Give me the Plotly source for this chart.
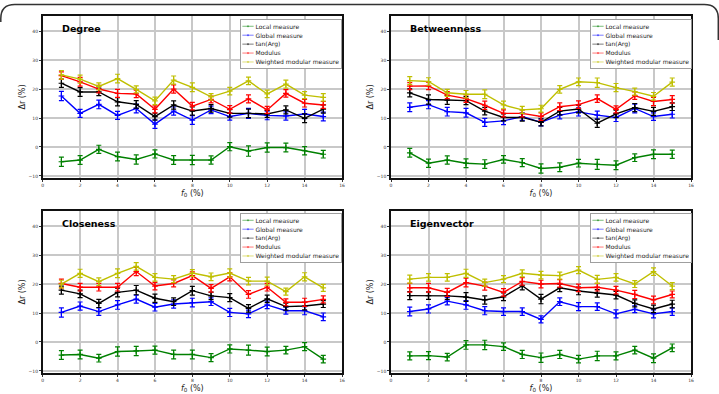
import plotly.graph_objects as go

W, H = 719, 394

X = [1, 2, 3, 4, 5, 6, 7, 8, 9, 10, 11, 12, 13, 14, 15]
SERIES_NAMES = ["Local measure", "Global measure", "tan(Arg)", "Modulus", "Weighted modular measure"]
SERIES_COLORS = ["#008000", "#0000ff", "#000000", "#ff0000", "#bfbf00"]
PANEL_TITLES = ["Degree", "Betweenness", "Closeness", "Eigenvector"]
X_TICKS = [0, 2, 4, 6, 8, 10, 12, 14, 16]
Y_TICKS = [-10, 0, 10, 20, 30, 40]

# Degree
DEG_LOCAL = [-5.1, -4.5, -0.8, -3.3, -4.3, -2.4, -4.5, -4.5, -4.5, 0.1, -1.4, -0.2, -0.2, -1.3, -2.5]
DEG_GLOBAL = [17.6, 11.6, 14.7, 10.9, 13.3, 7.9, 12.4, 9.3, 12.8, 10.5, 11.6, 10.9, 10.7, 11.4, 10.5]
DEG_TANARG = [22.0, 19.0, 19.0, 15.6, 14.7, 10.5, 14.5, 12.4, 13.3, 11.6, 11.6, 11.4, 12.8, 9.9, 13.1]
DEG_MODULUS = [24.6, 22.5, 20.0, 18.5, 18.3, 13.0, 20.0, 14.1, 16.4, 13.0, 16.6, 12.8, 18.5, 15.1, 14.5]
DEG_WEIGHTED = [24.9, 23.4, 20.9, 23.6, 19.9, 15.9, 23.1, 20.6, 17.3, 19.3, 22.8, 18.3, 21.7, 17.9, 17.1]
DEG_LOCAL_ERR = [1.6, 1.5, 1.4, 1.5, 1.6, 1.4, 1.5, 1.6, 1.4, 1.4, 1.8, 1.6, 1.5, 1.4, 1.3]
DEG_GLOBAL_ERR = [1.6, 1.4, 1.5, 1.4, 1.5, 1.5, 1.4, 1.5, 1.3, 1.2, 1.7, 1.5, 1.4, 1.6, 1.5]
DEG_TANARG_ERR = [1.4, 1.5, 1.3, 1.4, 1.3, 1.2, 1.4, 1.4, 1.3, 1.3, 1.5, 1.2, 1.4, 1.5, 1.4]
DEG_MODULUS_ERR = [1.3, 1.5, 1.3, 1.4, 1.3, 1.2, 1.4, 1.3, 1.2, 1.3, 1.4, 1.2, 1.3, 1.3, 1.2]
DEG_WEIGHTED_ERR = [1.5, 1.4, 1.2, 1.5, 1.2, 1.3, 1.4, 1.5, 1.1, 1.3, 1.3, 1.3, 1.4, 1.2, 1.3]

# Betweenness
BET_LOCAL = [-2.0, -5.6, -4.5, -5.6, -5.9, -4.3, -5.4, -7.4, -7.0, -5.6, -6.0, -6.3, -3.7, -2.5, -2.5]
BET_GLOBAL = [13.7, 14.6, 12.2, 11.8, 8.5, 9.0, 10.5, 8.5, 11.0, 12.1, 11.0, 10.2, 13.3, 10.5, 11.3]
BET_TANARG = [18.7, 16.4, 16.2, 16.0, 12.4, 10.2, 10.2, 8.5, 12.4, 13.1, 8.2, 11.4, 13.6, 12.3, 13.9]
BET_MODULUS = [21.0, 21.1, 17.9, 16.7, 14.4, 11.6, 11.6, 10.5, 13.9, 14.6, 16.7, 13.0, 17.7, 15.7, 16.4]
BET_WEIGHTED = [22.9, 22.6, 18.7, 18.2, 18.2, 14.5, 12.8, 13.2, 19.9, 22.5, 22.2, 20.5, 19.1, 17.5, 22.4]
BET_LOCAL_ERR = [1.5, 1.4, 1.4, 1.5, 1.5, 1.3, 1.4, 1.6, 1.5, 1.3, 1.7, 1.5, 1.3, 1.5, 1.4]
BET_GLOBAL_ERR = [1.5, 1.4, 1.5, 1.5, 1.4, 1.3, 1.3, 1.2, 1.3, 1.4, 1.4, 1.4, 1.5, 1.3, 1.3]
BET_TANARG_ERR = [1.4, 1.6, 1.5, 1.4, 1.3, 1.2, 1.3, 1.2, 1.3, 1.3, 1.4, 1.3, 1.4, 1.4, 1.3]
BET_MODULUS_ERR = [1.2, 1.3, 1.2, 1.3, 1.4, 1.2, 1.2, 1.3, 1.3, 1.3, 1.3, 1.2, 1.3, 1.4, 1.3]
BET_WEIGHTED_ERR = [1.4, 1.3, 1.2, 1.3, 1.5, 1.3, 1.2, 1.2, 1.3, 1.3, 1.6, 1.4, 1.2, 1.3, 1.4]

# Closeness
CLO_LOCAL = [-4.5, -4.3, -5.6, -3.3, -3.1, -2.8, -4.3, -4.3, -5.4, -2.4, -2.8, -3.3, -2.8, -1.6, -5.9]
CLO_GLOBAL = [10.2, 12.4, 10.5, 12.8, 14.8, 12.0, 13.1, 13.6, 13.9, 10.2, 9.7, 12.8, 10.8, 10.8, 8.7]
CLO_TANARG = [17.9, 16.6, 13.3, 17.1, 17.9, 15.1, 13.9, 17.7, 15.9, 15.3, 11.6, 14.9, 12.2, 12.4, 13.1]
CLO_MODULUS = [20.2, 18.9, 18.9, 18.9, 24.3, 19.3, 20.2, 22.9, 18.5, 22.5, 16.4, 18.9, 13.7, 13.7, 14.7]
CLO_WEIGHTED = [20.0, 23.7, 20.8, 23.7, 26.1, 22.3, 21.7, 23.8, 22.5, 23.8, 21.0, 21.0, 17.4, 22.5, 18.7]
CLO_LOCAL_ERR = [1.5, 1.5, 1.3, 1.6, 1.6, 1.4, 1.5, 1.5, 1.4, 1.4, 1.7, 1.5, 1.3, 1.4, 1.3]
CLO_GLOBAL_ERR = [1.6, 1.4, 1.3, 1.5, 1.4, 1.3, 1.4, 1.5, 1.3, 1.4, 1.3, 1.3, 1.2, 1.4, 1.3]
CLO_TANARG_ERR = [1.4, 1.3, 1.4, 1.5, 1.6, 1.4, 1.3, 1.5, 1.3, 1.4, 1.3, 1.3, 1.2, 1.3, 1.2]
CLO_MODULUS_ERR = [1.5, 1.3, 1.3, 1.3, 1.4, 1.3, 1.2, 1.3, 1.3, 1.4, 1.3, 1.3, 1.2, 1.4, 1.2]
CLO_WEIGHTED_ERR = [1.3, 1.4, 1.3, 1.5, 1.3, 1.3, 1.2, 1.2, 1.3, 1.4, 1.3, 1.4, 1.2, 1.4, 1.2]

# Eigenvector
EIG_LOCAL = [-4.8, -4.7, -5.2, -1.0, -1.0, -1.6, -4.3, -5.4, -4.3, -5.9, -4.8, -4.8, -2.8, -5.6, -2.0]
EIG_GLOBAL = [10.5, 11.4, 14.1, 12.8, 10.8, 10.5, 10.5, 7.8, 13.9, 12.2, 12.2, 9.7, 11.3, 9.7, 10.5]
EIG_TANARG = [16.0, 16.0, 15.9, 15.5, 14.5, 15.6, 19.4, 14.8, 18.7, 17.6, 16.8, 16.2, 13.3, 11.4, 13.1]
EIG_MODULUS = [18.7, 18.7, 17.1, 20.5, 19.3, 17.1, 20.9, 20.0, 20.2, 18.7, 18.9, 17.9, 16.4, 14.5, 16.4]
EIG_WEIGHTED = [21.7, 22.3, 22.3, 23.7, 20.5, 21.7, 23.7, 23.1, 22.9, 24.8, 21.6, 22.3, 20.0, 24.3, 19.3]
EIG_LOCAL_ERR = [1.4, 1.4, 1.3, 1.5, 1.6, 1.3, 1.4, 1.6, 1.4, 1.3, 1.6, 1.4, 1.3, 1.5, 1.3]
EIG_GLOBAL_ERR = [1.5, 1.4, 1.3, 1.5, 1.4, 1.3, 1.3, 1.2, 1.3, 1.4, 1.3, 1.4, 1.2, 1.4, 1.3]
EIG_TANARG_ERR = [1.4, 1.3, 1.2, 1.5, 1.4, 1.3, 1.4, 1.6, 1.3, 1.3, 1.3, 1.3, 1.2, 1.3, 1.3]
EIG_MODULUS_ERR = [1.5, 1.5, 1.4, 1.5, 1.4, 1.3, 1.3, 1.3, 1.3, 1.3, 1.3, 1.3, 1.4, 1.3, 1.2]
EIG_WEIGHTED_ERR = [1.4, 1.3, 1.3, 1.4, 1.2, 1.2, 1.2, 1.3, 1.2, 1.2, 1.4, 1.3, 1.2, 1.3, 1.2]

PANELS = [
    [DEG_LOCAL, DEG_GLOBAL, DEG_TANARG, DEG_MODULUS, DEG_WEIGHTED],
    [BET_LOCAL, BET_GLOBAL, BET_TANARG, BET_MODULUS, BET_WEIGHTED],
    [CLO_LOCAL, CLO_GLOBAL, CLO_TANARG, CLO_MODULUS, CLO_WEIGHTED],
    [EIG_LOCAL, EIG_GLOBAL, EIG_TANARG, EIG_MODULUS, EIG_WEIGHTED],
]
PANEL_ERRS = [
    [DEG_LOCAL_ERR, DEG_GLOBAL_ERR, DEG_TANARG_ERR, DEG_MODULUS_ERR, DEG_WEIGHTED_ERR],
    [BET_LOCAL_ERR, BET_GLOBAL_ERR, BET_TANARG_ERR, BET_MODULUS_ERR, BET_WEIGHTED_ERR],
    [CLO_LOCAL_ERR, CLO_GLOBAL_ERR, CLO_TANARG_ERR, CLO_MODULUS_ERR, CLO_WEIGHTED_ERR],
    [EIG_LOCAL_ERR, EIG_GLOBAL_ERR, EIG_TANARG_ERR, EIG_MODULUS_ERR, EIG_WEIGHTED_ERR],
]

# layout in pixels: (left, right, top, bottom) of each plot frame
FRAMES = [(42.7, 342, 16, 178), (391, 691, 16, 178), (42.7, 342, 211, 373), (391, 691, 211, 373)]
LEGEND_POS = [(341, 19), (691, 19), (341, 213), (691, 213)]  # right edge, top
LEGEND_SCALE = 0.375
FONT = "DejaVu Sans"

fig = go.Figure()

def px_x(p):
    return p / W

def px_y(p):
    return 1 - p / H

for i, (series, errs) in enumerate(zip(PANELS, PANEL_ERRS)):
    sfx = "" if i == 0 else str(i + 1)
    leg = "legend" if i == 0 else "legend" + str(i + 1)
    for name, col, ys, es in zip(SERIES_NAMES, SERIES_COLORS, series, errs):
        fig.add_trace(go.Scatter(
            x=X, y=ys, name=name, mode="lines+markers",
            xaxis="x" + sfx, yaxis="y" + sfx, legend=leg,
            line=dict(color=col, width=1.4),
            marker=dict(symbol="cross-thin", size=4, color=col, line=dict(color=col, width=1.2)),
            error_y=dict(type="data", array=es, visible=True, color=col, thickness=1.2, width=2.5),
        ))
    l, r, t, b = FRAMES[i]
    axcommon = dict(
        showline=True, mirror=True, linecolor="#111111", linewidth=1.6,
        showgrid=True, gridcolor="#c8c8c8", gridwidth=1.6, automargin=False,
        ticks="outside", ticklen=2, tickwidth=0.8, tickcolor="#333",
        tickfont=dict(family=FONT, size=4.5, color="#333"), zeroline=False,
    )
    fig.layout["xaxis" + sfx] = dict(
        axcommon, domain=[px_x(l), px_x(r)], range=[0, 16], tickvals=X_TICKS,
        anchor="y" + sfx,
        title=dict(text="<i>f</i><sub>0</sub> (%)", font=dict(family=FONT, size=8, color="#222"), standoff=3),
    )
    fig.layout["yaxis" + sfx] = dict(
        axcommon, domain=[px_y(b), px_y(t)], range=[-10.7, 45.2], tickvals=Y_TICKS,
        anchor="x" + sfx,
        title=dict(text="Δr (%)", font=dict(family=FONT, size=8, color="#222"), standoff=2),
    )
    fig.layout[leg] = dict(
        x=0, y=1, xanchor="left", yanchor="top",
        bgcolor="white", bordercolor="#999999", borderwidth=2.5,
        font=dict(family=FONT, size=16, color="#222"), tracegroupgap=0,
    )
    fig.add_annotation(
        text="<b>" + PANEL_TITLES[i] + "</b>", xref="paper", yref="paper",
        x=px_x(l + 17), y=px_y(t + 12.5), xanchor="left", yanchor="middle", showarrow=False,
        font=dict(family=FONT, size=9.5, color="black"),
    )

# outer rounded frame (top edge with rounded corners; sides run along the image edges)
x1, x2, yt, rr = 0.8, 718.3, 4.5, 14
yb_left, yb_right = 22, 40
path = (f"M {px_x(x1)},{px_y(yb_left)} L {px_x(x1)},{px_y(yt + rr)} Q {px_x(x1)},{px_y(yt)} {px_x(x1 + rr)},{px_y(yt)} "
        f"L {px_x(x2 - rr)},{px_y(yt)} Q {px_x(x2)},{px_y(yt)} {px_x(x2)},{px_y(yt + rr)} L {px_x(x2)},{px_y(yb_right)}")
fig.add_shape(type="path", path=path, xref="paper", yref="paper", line=dict(color="#333333", width=1.5))

fig.update_layout(
    width=W, height=H, margin=dict(l=0, r=0, t=0, b=0, autoexpand=False),
    paper_bgcolor="white", plot_bgcolor="white", showlegend=True,
)

legend_js = "var gd=document.getElementById('{plot_id}');var P=%s;var s=%s;" % (
    str([list(p) for p in LEGEND_POS]), LEGEND_SCALE)
legend_js += """
var names=['legend','legend2','legend3','legend4'];
names.forEach(function(n,i){
  var g=gd.querySelector('g.'+n);
  if(!g) return;
  var bg=g.querySelector('rect.bg');
  var w=bg?parseFloat(bg.getAttribute('width')):0;
  var tx=P[i][0]-w*s, ty=P[i][1];
  g.setAttribute('transform','translate('+tx+','+ty+') scale('+s+')');
});
"""

fig.write_html("out.html", post_script=legend_js)
